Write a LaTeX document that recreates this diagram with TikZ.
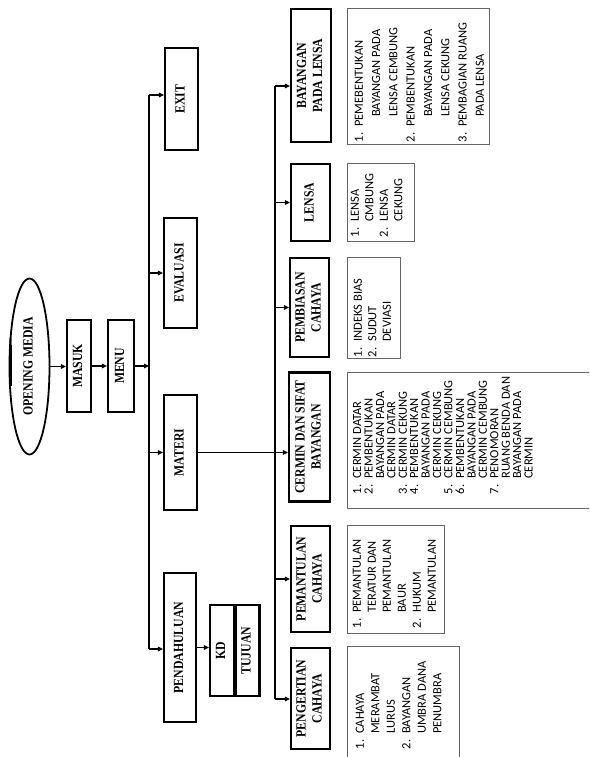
\documentclass[tikz,border=0pt]{standalone}
\usepackage{fontspec}
\setmainfont{Liberation Serif}
\newfontfamily\boxfont[FakeStretch=0.84]{Liberation Serif}
\newfontfamily\listfont{Carlito}
\usetikzlibrary{arrows.meta,shapes.geometric}
\newcommand{\vtext}[1]{\rotatebox{90}{\begin{tabular}{@{}c@{}}#1\end{tabular}}}
\begin{document}
\begin{tikzpicture}[x=1pt,y=1pt,
  bbox/.style={draw, line width=2.2pt, inner sep=0pt,
    font=\boxfont\bfseries\fontsize{14}{16}\selectfont},
  lbox/.style={draw=black!60, line width=0.8pt, inner sep=0pt},
  ltext/.style={rotate=90, anchor=north west, inner sep=0pt},
  conn/.style={line width=1.2pt},
  arr/.style={line width=1.2pt, -{Triangle[length=5pt,width=4.5pt]}}]
\useasboundingbox (0,0) rectangle (589,-757);
\clip (0,0) rectangle (589,-757);

% start and menu chain
\fill[black!45] (8.5,-338) rectangle (12,-378);
\node[ellipse, draw, line width=1.8pt, minimum width=40pt, minimum height=176pt, inner sep=0pt,
  font=\boxfont\bfseries\fontsize{14}{16}\selectfont] (open) at (29.5,-366.5) {\vtext{OPENING MEDIA}};
\draw[line width=3pt] (10.5,-345) -- (10.5,-386);
\node[bbox, minimum width=24pt, minimum height=92pt] (masuk) at (79,-366) {\vtext{MASUK}};
\node[bbox, minimum width=26pt, minimum height=92pt] (menu) at (121,-366) {\vtext{MENU}};

% first level
\node[bbox, minimum width=33pt, minimum height=102pt] (exit) at (181.5,-99) {\vtext{EXIT}};
\node[bbox, minimum width=33pt, minimum height=110pt] (eval) at (180.5,-273) {\vtext{EVALUASI}};
\node[bbox, minimum width=33pt, minimum height=115pt] (materi) at (180.5,-452.5) {\vtext{MATERI}};
\node[bbox, minimum width=32pt, minimum height=149pt] (pend) at (180,-647.5) {\vtext{PENDAHULUAN}};
\node[bbox, minimum width=24pt, minimum height=91pt] (kd) at (222,-650.5) {\vtext{KD}};
\node[bbox, minimum width=24pt, minimum height=91pt] (tujuan) at (247.5,-650.5) {\vtext{TUJUAN}};

% second level
\node[bbox, minimum width=40pt, minimum height=133pt] (bay) at (311,-75.5) {\vtext{BAYANGAN\\PADA LENSA}};
\node[bbox, minimum width=39pt, minimum height=77pt] (lensa) at (310.5,-202.5) {\vtext{LENSA}};
\node[bbox, minimum width=39pt, minimum height=99pt] (pemb) at (309.5,-307.5) {\vtext{PEMBIASAN\\CAHAYA}};
\node[bbox, minimum width=41pt, minimum height=129pt] (cermin) at (309.5,-437) {\vtext{CERMIN DAN SIFAT\\BAYANGAN}};
\node[bbox, minimum width=39pt, minimum height=106pt] (pemant) at (310.5,-579) {\vtext{PEMANTULAN\\CAHAYA}};
\node[bbox, minimum width=39pt, minimum height=101pt] (peng) at (310.5,-698.5) {\vtext{PENGERTIAN\\CAHAYA}};

% list boxes
\node[lbox, minimum width=142pt, minimum height=136pt] (bayl) at (418,-76) {};
\node[lbox, minimum width=67pt, minimum height=78pt] (lensl) at (380.5,-202) {};
\node[lbox, minimum width=53pt, minimum height=101pt] (pembl) at (373.5,-307.5) {};
\node[lbox, minimum width=273pt, minimum height=136pt] (cerml) at (483.5,-440) {};
\node[lbox, minimum width=97pt, minimum height=108pt] (pemal) at (395.5,-579) {};
\node[lbox, minimum width=112pt, minimum height=134pt] (pengl) at (403,-713) {};

\node[ltext, font=\listfont\fontsize{12.5}{17.3}\selectfont] (baylt) at ([xshift=3.9pt,yshift=2pt]bayl.south west)
 {\begin{tabular}{@{}l@{\hspace{6pt}}l@{}}
 1. & PEMEBENTUKAN\\ & \hspace{10pt}BAYANGAN PADA\\ & \hspace{10pt}LENSA CEMBUNG\\
 2. & PEMBENTUKAN\\ & \hspace{10pt}BAYANGAN PADA\\ & \hspace{10pt}LENSA CEKUNG\\
 3. & PEMBAGIAN RUANG\\ & \hspace{10pt}PADA LENSA\end{tabular}};
\node[ltext, font=\listfont\fontsize{12.5}{14.5}\selectfont] (lenslt) at ([xshift=1.9pt,yshift=4pt]lensl.south west)
 {\begin{tabular}{@{}l@{\hspace{6pt}}l@{}}
 1. & LENSA\\ & CMBUNG\\ 2. & LENSA\\ & CEKUNG\end{tabular}};
\node[ltext, font=\listfont\fontsize{12.5}{14.5}\selectfont] (pemblt) at ([xshift=4.8pt,yshift=1pt]pembl.south west)
 {\begin{tabular}{@{}l@{\hspace{6pt}}l@{}}
 1. & INDEKS BIAS\\ 2. & SUDUT\\ & DEVIASI\end{tabular}};
\node[ltext, font=\listfont\fontsize{12.5}{11}\selectfont] (cermlt) at ([xshift=6.3pt,yshift=14pt]cerml.south west)
 {\begin{tabular}{@{}l@{\hspace{6pt}}l@{}}
 1. & CERMIN DATAR\\ 2. & PEMBENTUKAN\\ & BAYANGAN PADA\\ & CERMIN DATAR\\
 3. & CERMIN CEKUNG\\ 4. & PEMBENTUKAN\\ & BAYANGAN PADA\\ & CERMIN CEKUNG\\
 5. & CERMIN CEMBUNG\\ 6. & PEMBENTUKAN\\ & BAYANGAN PADA\\ & CERMIN CEMBUNG\\
 7. & PENOMORAN\\ & RUANG BENDA DAN\\ & BAYANGAN PADA\\ & CERMIN\end{tabular}};
\node[ltext, font=\listfont\fontsize{12.5}{15}\selectfont] (pemalt) at ([xshift=3.5pt,yshift=5pt]pemal.south west)
 {\begin{tabular}{@{}l@{\hspace{6pt}}l@{}}
 1. & PEMANTULAN\\ & TERATUR DAN\\ & PEMANTULAN\\ & BAUR\\ 2. & HUKUM\\ & PEMANTULAN\end{tabular}};
\node[ltext, font=\listfont\fontsize{12.5}{15.5}\selectfont] (penglt) at ([xshift=6.1pt,yshift=31pt]pengl.south west)
 {\begin{tabular}{@{}l@{\hspace{6pt}}l@{}}
 1. & CAHAYA\\ & MERAMBAT\\ & LURUS\\ 2. & BAYANGAN\\ & UMBRA DANA\\ & PENUMBRA\end{tabular}};

% connectors: start chain
\draw[arr] (open.east) -- (masuk.west |- open.east);
\draw[arr] (masuk.east) -- (menu.west);
\coordinate (t1top) at (149,-95);
\coordinate (t1bot) at (149,-649);
\draw[arr] (menu.east) -- (menu.east -| t1top);
\draw[conn] (t1top) -- (t1bot);
\draw[arr] (t1top) -- (exit.west |- t1top);
\draw[arr] (t1top |- eval.west) -- (eval.west);
\draw[arr] (t1top |- materi.west) -- (materi.west);
\draw[arr] (t1bot) -- (pend.west |- t1bot);
\draw[arr] (pend.east) -- (kd.west |- pend.east);

% second trunk
\coordinate (t2top) at (275,-86);
\coordinate (t2bot) at (275,-699);
\draw[conn] (t2top) -- (t2bot);
\draw[arr] (t2top) -- (bay.west |- t2top);
\draw[arr] (t2top |- lensa.west) -- (lensa.west);
\draw[arr] (t2top |- pemb.west) -- (pemb.west);
\draw[arr] (materi.east) -- (cermin.west |- materi.east);
\draw[arr] (t2top |- pemant.west) -- (pemant.west);
\draw[arr] (t2bot) -- (peng.west |- t2bot);
\end{tikzpicture}
\end{document}
